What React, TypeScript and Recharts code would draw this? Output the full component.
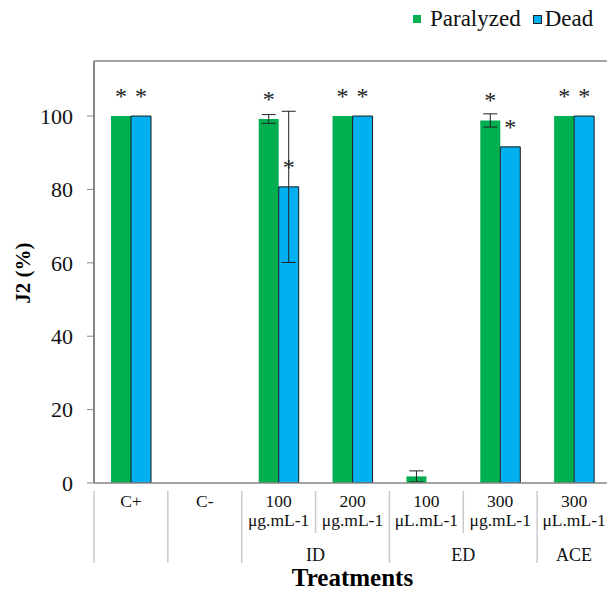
import React from "react";
import {
  BarChart,
  Bar,
  XAxis,
  YAxis,
  ErrorBar,
  LabelList,
  ReferenceLine,
} from "recharts";

const categoryTop = ["C+", "C-", "100", "200", "100", "300", "300"];
const categoryUnit = ["", "", "μg.mL-1", "μg.mL-1", "μL.mL-1", "μg.mL-1", "μL.mL-1"];
const categoryGroup = ["", "", "ID", "ID", "ED", "ED", "ACE"];

const paralyzed = [100, 0, 99.2, 100, 1.8, 98.8, 100];
const paralyzedErr = [0, 0, 1.2, 0, 1.5, 1.8, 0];
const paralyzedSig = [true, false, true, true, false, true, true];

const dead = [100, 0, 80.7, 100, 0, 91.6, 100];
const deadErr = [0, 0, 20.6, 0, 0, 0, 0];
const deadSig = [true, false, true, true, false, true, true];

const yTicks = [0, 20, 40, 60, 80, 100];

const GREEN = "#00B050";
const BLUE = "#00B0F0";
const AXIS = "#868686";
const SEP = "#c9c9c9";
const FONT = "Liberation Serif, Tinos, DejaVu Serif, serif";

const CHART_W = 612;
const CHART_H = 592;
const PLOT_LEFT = 94;
const PLOT_RIGHT = 611;
const BAND = (PLOT_RIGHT - PLOT_LEFT) / categoryTop.length;

const data = categoryTop.map((c, i) => ({
  name: `${c}|${i}`,
  paralyzed: paralyzed[i],
  paralyzedErr: paralyzedErr[i],
  paralyzedStar: paralyzedSig[i] ? "*" : "",
  dead: dead[i],
  deadErr: deadErr[i] || null,
  deadStar: deadSig[i] ? "*" : "",
}));

// long separator where a new group starts
const isLongSep = (i: number) =>
  i === 0 || categoryGroup[i] !== categoryGroup[i - 1] || categoryGroup[i] === "";

const XTick = (props: any) => {
  const { x, y, index } = props;
  const left = x - BAND / 2;
  const g = categoryGroup[index];
  let groupLabel = null;
  if (g && (index === 0 || categoryGroup[index - 1] !== g)) {
    let n = 1;
    while (categoryGroup[index + n] === g) n++;
    groupLabel = (
      <text x={left + (n * BAND) / 2} y={561} textAnchor="middle" fontSize={18} fontFamily={FONT} fill="#111">
        {g}
      </text>
    );
  }
  return (
    <g>
      <line x1={left} x2={left} y1={y} y2={isLongSep(index) ? 563 : 533} stroke={SEP} strokeWidth={1.5} />
      {index === categoryTop.length - 1 && (
        <line x1={left + BAND} x2={left + BAND} y1={y} y2={563} stroke={SEP} strokeWidth={1.5} />
      )}
      <text x={x} y={507} textAnchor="middle" fontSize={17.5} fontFamily={FONT} fill="#111">
        {categoryTop[index]}
      </text>
      {categoryUnit[index] && (
        <text x={x} y={526} textAnchor="middle" fontSize={17.5} fontFamily={FONT} fill="#111">
          {categoryUnit[index]}
        </text>
      )}
      {groupLabel}
    </g>
  );
};

const Star = (props: any) => {
  const { x, y, width, value } = props;
  if (!value) return null;
  return (
    <text x={x + width / 2} y={y - 12} textAnchor="middle" fontSize={24} fontFamily={FONT} fill="#222">
      {value}
    </text>
  );
};

const LegendBox = () => (
  <div
    style={{
      position: "absolute",
      top: 6,
      left: 413,
      display: "flex",
      alignItems: "center",
      fontFamily: FONT,
      fontSize: 23,
      color: "#111",
      whiteSpace: "nowrap",
    }}
  >
    <span style={{ width: 8, height: 8, background: GREEN, display: "inline-block", marginRight: 9 }} />
    <span style={{ marginRight: 12 }}>Paralyzed</span>
    <span
      style={{
        width: 7,
        height: 7,
        background: BLUE,
        border: "1px solid #222",
        display: "inline-block",
        marginRight: 3,
      }}
    />
    <span>Dead</span>
  </div>
);

export default function App() {
  return (
    <div style={{ position: "absolute", left: 0, top: 0, width: 607, height: 592, overflow: "hidden", background: "#fff" }}>
      <BarChart
        width={CHART_W}
        height={CHART_H}
        data={data}
        margin={{ top: 61, right: CHART_W - PLOT_RIGHT, bottom: 0, left: 0 }}
        barGap={0}
        barCategoryGap="22%"
      >
        <XAxis
          dataKey="name"
          axisLine={{ stroke: AXIS, strokeWidth: 1.5 }}
          tickLine={false}
          height={109}
          interval={0}
          tick={<XTick />}
          label={() => (
            <text x={(PLOT_LEFT + PLOT_RIGHT) / 2} y={586} textAnchor="middle" fontSize={25} fontWeight="bold" fontFamily={FONT} fill="#000">
              Treatments
            </text>
          )}
        />
        <YAxis
          width={PLOT_LEFT}
          domain={[0, 115]}
          ticks={yTicks}
          allowDataOverflow
          axisLine={{ stroke: AXIS, strokeWidth: 2 }}
          tickLine={{ stroke: AXIS }}
          tickSize={7}
          tickMargin={14}
          tick={{ fill: "#111", fontSize: 22, fontFamily: FONT }}
          label={() => (
            <text
              x={30}
              y={273}
              transform="rotate(-90 30 273)"
              textAnchor="middle"
              fontSize={21}
              fontWeight="bold"
              fontFamily={FONT}
              fill="#000"
            >
              J2 (%)
            </text>
          )}
        />
        <ReferenceLine y={115} stroke={AXIS} strokeWidth={1.5} ifOverflow="visible" />
        <Bar dataKey="paralyzed" fill={GREEN} barSize={20} isAnimationActive={false}>
          <ErrorBar dataKey="paralyzedErr" width={7} stroke="#222" strokeWidth={1} />
          <LabelList dataKey="paralyzedStar" content={<Star />} />
        </Bar>
        <Bar dataKey="dead" fill={BLUE} stroke="#1a1a1a" strokeWidth={1} barSize={20} isAnimationActive={false}>
          <ErrorBar dataKey="deadErr" width={7} stroke="#222" strokeWidth={1} />
          <LabelList dataKey="deadStar" content={<Star />} />
        </Bar>
      </BarChart>
      <LegendBox />
    </div>
  );
}
